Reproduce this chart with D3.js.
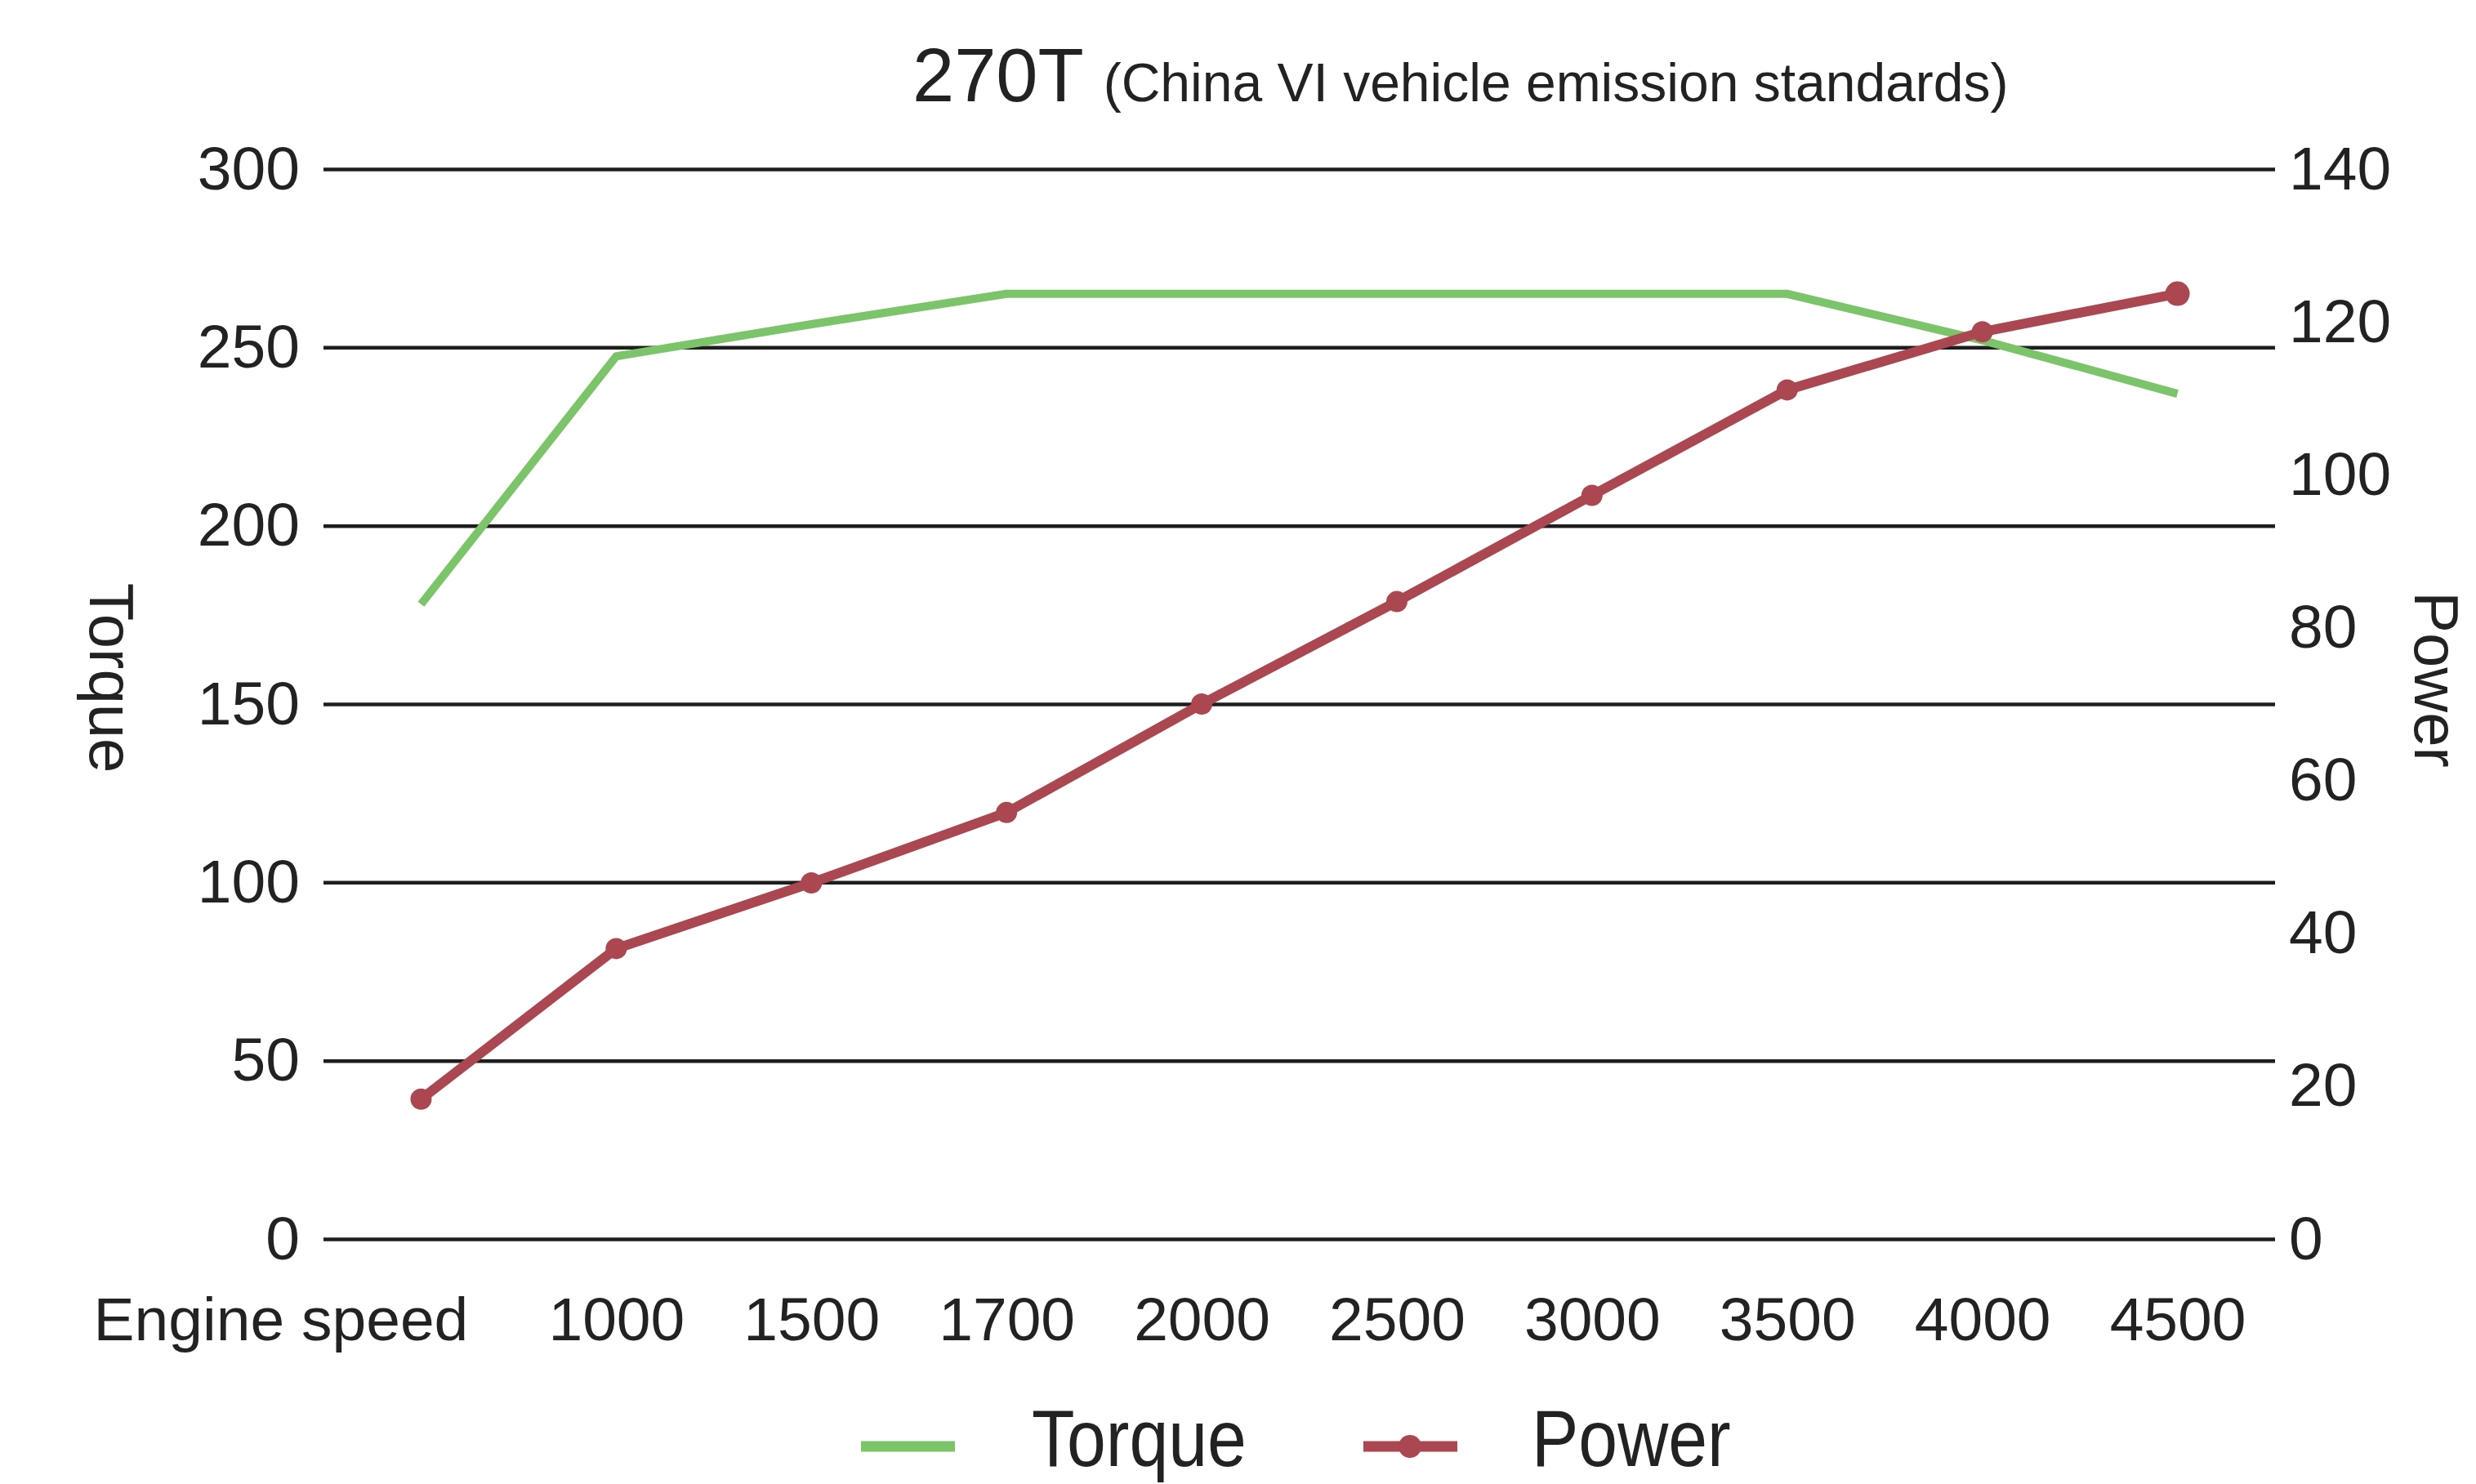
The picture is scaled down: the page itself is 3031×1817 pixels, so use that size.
<!DOCTYPE html>
<html>
<head>
<meta charset="utf-8">
<script src="https://cdn.jsdelivr.net/npm/d3@7"></script>
<style>
  body { margin: 0; background: #fff; }
  text { font-family: "Liberation Sans", Arial, sans-serif; fill: #222; }
</style>
</head>
<body>
<div id="chart"></div>
<script>
// data
let speeds = ["Engine speed", "1000", "1500", "1700", "2000", "2500", "3000", "3500", "4000", "4500"];
let torque = [178, 247.5, 256.5, 265, 265, 265, 265, 265, 252, 237];
let power = [18.3, 38, 46.6, 55.8, 70, 83.4, 97.3, 111.1, 118.7, 123.7];
let torqueTicks = [0, 50, 100, 150, 200, 250, 300];
let powerTicks = [0, 20, 40, 60, 80, 100, 120, 140];

// set the dimensions and margins of the graph
let margin = {top: 207, right: 246, bottom: 300, left: 396},
    width = 3031 - margin.left - margin.right,
    height = 1817 - margin.top - margin.bottom;

let root = d3.select("#chart")
  .append("svg")
    .attr("width", 3031)
    .attr("height", 1817);

let svg = root.append("g")
    .attr("transform", "translate(" + margin.left + "," + margin.top + ")");

let x = d3.scalePoint()
  .domain(speeds)
  .range([0, width])
  .padding(0.5);

let yL = d3.scaleLinear().domain([0, 300]).range([height, 0]);
let yR = d3.scaleLinear().domain([0, 140]).range([height, 0]);

// gridlines + left axis
let left = svg.append("g")
  .call(d3.axisLeft(yL).tickValues(torqueTicks).tickSize(-width).tickPadding(29));
left.select(".domain").remove();
left.selectAll(".tick line").attr("stroke", "#1e1e1e").attr("stroke-width", 4.5);
left.selectAll(".tick text").attr("font-size", 75).attr("fill", "#222");

// right axis, labels only
let right = svg.append("g")
  .attr("transform", "translate(" + width + ",0)")
  .call(d3.axisRight(yR).tickValues(powerTicks).tickSize(0).tickPadding(17));
right.select(".domain").remove();
right.selectAll(".tick text").attr("font-size", 75).attr("fill", "#222");

// x axis labels
let bottom = svg.append("g")
  .attr("transform", "translate(0," + height + ")")
  .call(d3.axisBottom(x).tickSize(0).tickPadding(0));
bottom.select(".domain").remove();
bottom.selectAll(".tick text")
  .attr("font-size", 75)
  .attr("fill", "#222")
  .attr("dy", null)
  .attr("y", 124)
  .attr("x", function(d, i) { return i == 0 ? -172 : 0; });

// axis titles
root.append("text")
  .attr("transform", "translate(110,830) rotate(90)")
  .attr("text-anchor", "middle")
  .attr("font-size", 76)
  .text("Torque");

root.append("text")
  .attr("transform", "translate(2956,832) rotate(90)")
  .attr("text-anchor", "middle")
  .attr("font-size", 76)
  .text("Power");

// title
let title = root.append("text")
  .attr("x", 1117)
  .attr("y", 124);
title.append("tspan").attr("font-size", 92).text("270T");
title.append("tspan").attr("font-size", 66).attr("dx", 24).text("(China VI vehicle emission standards)");

// lines
let green = "#7cc46a", red = "#ab4750";

svg.append("path")
  .datum(torque)
  .attr("fill", "none")
  .attr("stroke", green)
  .attr("stroke-width", 10)
  .attr("d", d3.line()
    .x(function(d, i) { return x(speeds[i]); })
    .y(function(d) { return yL(d); }));

svg.append("path")
  .datum(power)
  .attr("fill", "none")
  .attr("stroke", red)
  .attr("stroke-width", 12)
  .attr("d", d3.line()
    .x(function(d, i) { return x(speeds[i]); })
    .y(function(d) { return yR(d); }));

svg.selectAll(".dot")
  .data(power)
  .enter().append("circle")
    .attr("class", "dot")
    .attr("cx", function(d, i) { return x(speeds[i]); })
    .attr("cy", function(d) { return yR(d); })
    .attr("r", function(d, i) { return i == power.length - 1 ? 15 : 13; })
    .attr("fill", red);

// legend
let legend = root.append("g");
legend.append("line")
  .attr("x1", 1054).attr("x2", 1169).attr("y1", 1771).attr("y2", 1771)
  .attr("stroke", green).attr("stroke-width", 13);
legend.append("text")
  .attr("transform", "translate(1263,1795) scale(1,1.15)")
  .attr("font-size", 86)
  .text("Torque");
legend.append("line")
  .attr("x1", 1669).attr("x2", 1784).attr("y1", 1771).attr("y2", 1771)
  .attr("stroke", red).attr("stroke-width", 13);
legend.append("circle")
  .attr("cx", 1726).attr("cy", 1771).attr("r", 14)
  .attr("fill", red);
legend.append("text")
  .attr("transform", "translate(1875,1795) scale(1,1.15)")
  .attr("font-size", 86)
  .text("Power");
</script>
</body>
</html>
